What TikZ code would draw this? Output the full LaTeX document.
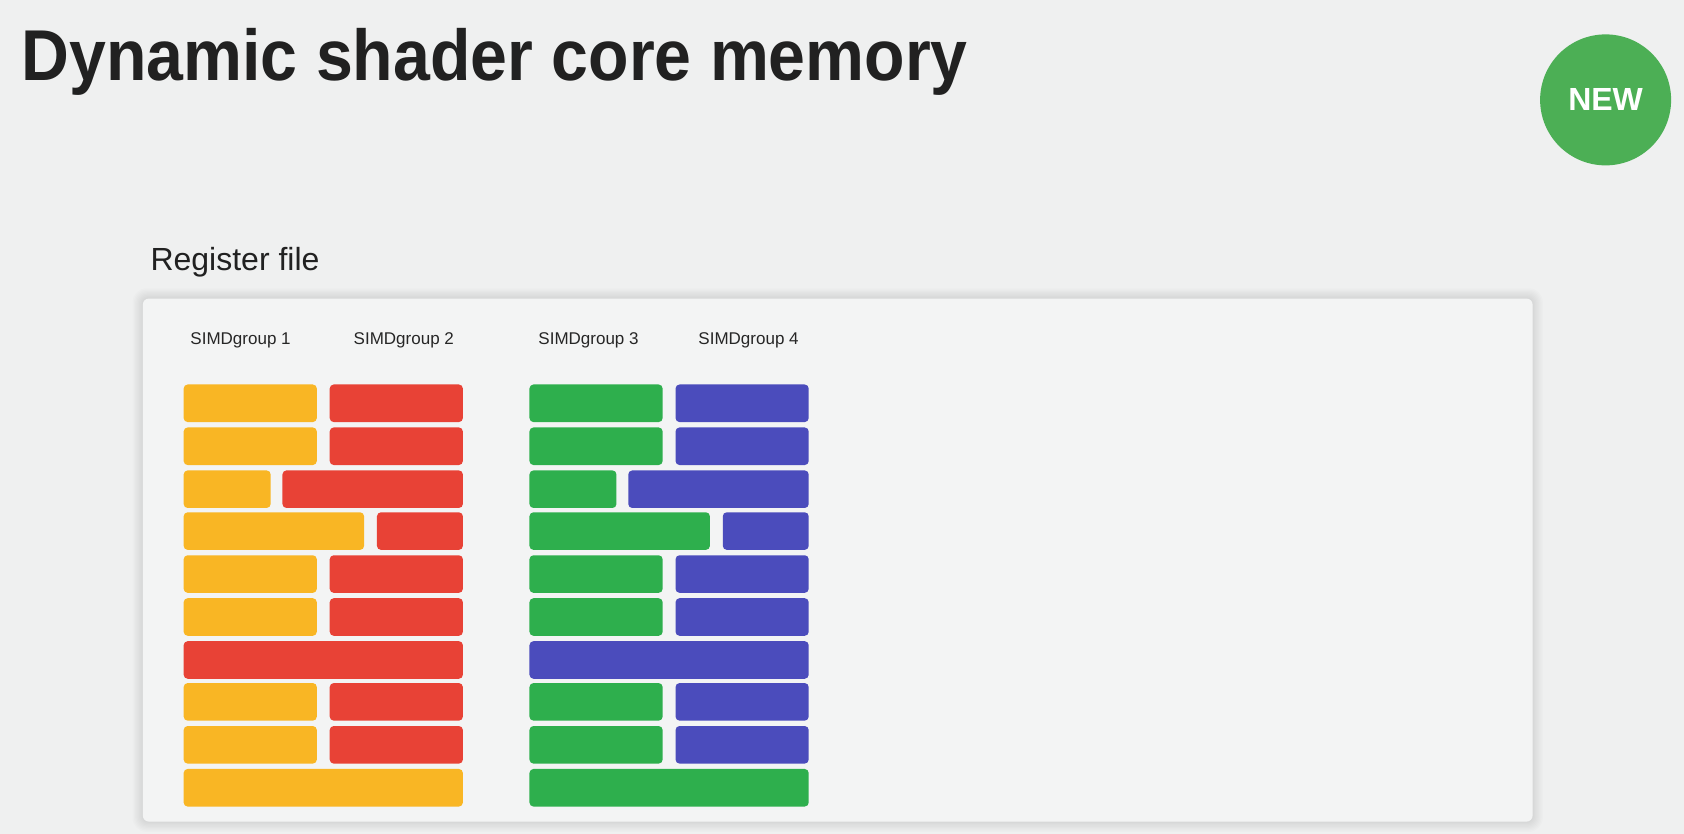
\documentclass[tikz,border=0pt]{standalone}
\usepackage{fontspec}
\setmainfont{Liberation Sans}
\definecolor{bg}{HTML}{EFF0F0}
\definecolor{panel}{HTML}{F3F4F4}
\definecolor{cy}{HTML}{F9B624}
\definecolor{cr}{HTML}{E84236}
\definecolor{cg}{HTML}{2EAF4D}
\definecolor{cb}{HTML}{4B4CBC}
\definecolor{newg}{HTML}{4CAF55}
\tikzset{bar/.style={rounded corners=4pt,draw=none},
 lbl/.style={font=\fontsize{17}{20}\selectfont,text=black!85,inner sep=0pt}}
\newcommand{\rb}[4]{\fill[bar,#1] (#2,#4) rectangle (#3,#4+35);}
\begin{document}
\begin{tikzpicture}[x=1.074pt,y=-1.074pt]
\fill[bg] (0,0) rectangle (1568,776.5);
\useasboundingbox (0,0) rectangle (1568,776.5);
\node[anchor=base west,inner sep=0pt,font=\bfseries\fontsize{72}{80}\selectfont,text=black!87] (title) at (20,75) {\scalebox{0.92}[1]{Dynamic shader core memory}};
\node[circle,fill=newg,minimum size=131pt,inner sep=0pt,text=white,font=\bfseries\fontsize{32}{36}\selectfont] (new) at (1495,93) {NEW};
\node[anchor=base west,inner sep=0pt,font=\fontsize{32}{36}\selectfont,text=black!87] (rf) at (140,252) {Register file};
\foreach \i in {1,...,8}{
 \fill[black,opacity=0.012,rounded corners=6pt+\i pt] (133-\i*1.2,278-\i*1.2) rectangle (1427+\i*1.2,765+\i*1.2);}
\fill[panel,rounded corners=6pt] (133,278) rectangle (1427,765);
\node[lbl] (s1) at (224,317) {SIMDgroup 1};
\node[lbl] (s2) at (376,317) {SIMDgroup 2};
\node[lbl] (s3) at (548,317) {SIMDgroup 3};
\node[lbl] (s4) at (697,317) {SIMDgroup 4};
\foreach \dx/\ca/\cb in {0/cy/cr,322/cg/cb}{
 \begin{scope}[xshift=\dx*1.074pt]
 \foreach \t in {358,398,517,557,636,676}{\rb{\ca}{171}{295}{\t}\rb{\cb}{307}{431}{\t}}
 \rb{\ca}{171}{252}{438}\rb{\cb}{263}{431}{438}
 \rb{\ca}{171}{339}{477}\rb{\cb}{351}{431}{477}
 \rb{\cb}{171}{431}{597}
 \rb{\ca}{171}{431}{716}
 \end{scope}}
\end{tikzpicture}
\end{document}
